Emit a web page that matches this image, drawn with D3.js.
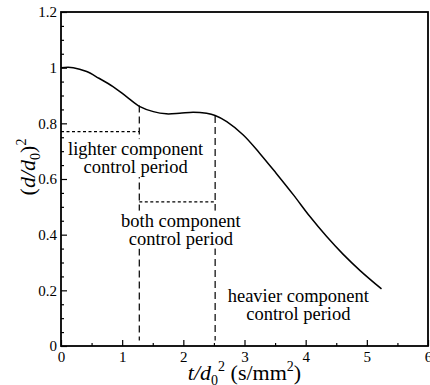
<!DOCTYPE html>
<html>
<head>
<meta charset="utf-8">
<script src="https://cdn.jsdelivr.net/npm/d3@7"></script>
<style>
  body { margin: 0; background: #fff; }
  text { font-family: "Liberation Serif", "Times New Roman", serif; fill: #000; }
</style>
</head>
<body>
<script>
// curve: t/d0^2 vs (d/d0)^2
const tValues = [0, 0.2, 0.42, 0.62, 0.85, 1.07, 1.29, 1.51, 1.72, 1.94, 2.16, 2.38, 2.52, 2.71, 2.98, 3.25, 3.52, 3.80, 4.07, 4.34, 4.61, 4.89, 5.24];
const dValues = [1.0, 1.0, 0.986, 0.962, 0.932, 0.896, 0.86, 0.842, 0.834, 0.836, 0.840, 0.836, 0.828, 0.806, 0.758, 0.692, 0.62, 0.543, 0.465, 0.394, 0.330, 0.271, 0.205];

// period boundaries (vertical dashes) and the short horizontal dotted marks
const periodT = [1.28, 2.52];
const periodTop = [0.864, 0.826];
const levelV = [0.77, 0.518];
const levelFrom = [0, 1.28];
const levelTo = [1.28, 2.52];

const labelLines = [
  ['lighter component', 'control period'],
  ['both component', 'control period'],
  ['heavier component', 'control period']
];
const labelT = [1.22, 1.96, 3.88];
const labelV = [0.686, 0.429, 0.159];

const xTicks = [0, 1, 2, 3, 4, 5, 6];
const yTicks = [0, 0.2, 0.4, 0.6, 0.8, 1, 1.2];

let margin = {top: 12, right: 2, bottom: 39, left: 61};
let width = 430 - (margin.left + margin.right);
let height = 385 - (margin.top + margin.bottom);

let xScale = d3.scaleLinear().domain([0, 6]).range([0, width]);
let yScale = d3.scaleLinear().domain([0, 1.2]).range([height, 0]);

let svg = d3.select('body').append('svg')
    .attr('width', 430)
    .attr('height', 385)
  .append('g')
    .attr('transform', 'translate(' + margin.left + ',' + margin.top + ')');

// minor ticks (inward, no labels)
let xMinor = d3.range(0.5, 6, 1);
let yMinor = d3.range(0, 1.2001, 0.05).filter(v => Math.abs(v * 5 - Math.round(v * 5)) > 1e-6);

svg.append('g')
    .attr('transform', 'translate(0,' + height + ')')
    .call(d3.axisBottom(xScale).tickValues(xMinor).tickSizeInner(-3).tickSizeOuter(0).tickFormat(''))
    .call(g => g.select('.domain').remove());

svg.append('g')
    .call(d3.axisLeft(yScale).tickValues(yMinor).tickSizeInner(-3).tickSizeOuter(0).tickFormat(''))
    .call(g => g.select('.domain').remove());

// major ticks
svg.append('g')
    .attr('class', 'x axis')
    .attr('transform', 'translate(0,' + height + ')')
    .call(d3.axisBottom(xScale).tickValues(xTicks).tickSizeInner(-6).tickSizeOuter(0).tickPadding(5).tickFormat(d3.format('')))
    .call(g => g.select('.domain').remove());

svg.append('g')
    .attr('class', 'y axis')
    .call(d3.axisLeft(yScale).tickValues(yTicks).tickSizeInner(-6).tickSizeOuter(0).tickPadding(4).tickFormat(d => String(+d.toFixed(1))))
    .call(g => g.select('.domain').remove());

svg.selectAll('.axis text')
    .style('font-family', '"Liberation Serif", serif')
    .style('font-size', '15px');
svg.selectAll('.tick line').attr('stroke', '#000').attr('stroke-width', 1.2);

// frame
svg.append('rect')
    .attr('width', width)
    .attr('height', height)
    .attr('fill', 'none')
    .attr('stroke', '#000')
    .attr('stroke-width', 1.8);

// period boundaries
svg.selectAll('.vline')
    .data(periodT)
  .enter().append('line')
    .attr('class', 'vline')
    .attr('x1', d => xScale(d))
    .attr('x2', d => xScale(d))
    .attr('y1', (d, i) => yScale(periodTop[i]))
    .attr('y2', yScale(0.02))
    .attr('stroke', '#000')
    .attr('stroke-width', 1.2)
    .attr('stroke-dasharray', '7,4');

svg.selectAll('.hline')
    .data(levelV)
  .enter().append('line')
    .attr('class', 'hline')
    .attr('x1', (d, i) => xScale(levelFrom[i]))
    .attr('x2', (d, i) => xScale(levelTo[i]))
    .attr('y1', d => yScale(d))
    .attr('y2', d => yScale(d))
    .attr('stroke', '#000')
    .attr('stroke-width', 1.2)
    .attr('stroke-dasharray', '3,2.5');

// curve
let line = d3.line()
    .x((d, i) => xScale(tValues[i]))
    .y(d => yScale(d))
    .curve(d3.curveCatmullRom.alpha(0.5));

svg.append('path')
    .datum(dValues)
    .attr('d', line)
    .attr('fill', 'none')
    .attr('stroke', '#000')
    .attr('stroke-width', 1.5);

// period labels, on a white patch that hides the dashes behind them
labelLines.forEach(function(lines, i) {
  let g = svg.append('g');
  let t = g.append('text')
      .attr('x', xScale(labelT[i]))
      .attr('y', yScale(labelV[i]))
      .attr('text-anchor', 'middle')
      .style('font-size', '18.5px');
  lines.forEach(function(s, j) {
    t.append('tspan')
        .attr('x', xScale(labelT[i]))
        .attr('dy', j === 0 ? 0 : 18)
        .text(s);
  });
  let b = t.node().getBBox();
  g.insert('rect', 'text')
      .attr('x', b.x - 1)
      .attr('y', b.y)
      .attr('width', b.width + 2)
      .attr('height', b.height)
      .attr('fill', '#fff');
});

// x axis title: t/d0^2 (s/mm^2)
let xt = svg.append('text')
    .attr('x', width / 2)
    .attr('y', height + 34)
    .attr('text-anchor', 'middle')
    .style('font-size', '22px');
xt.append('tspan').style('font-style', 'italic').text('t/d');
xt.append('tspan').attr('dy', 5).style('font-size', '14px').text('0');
xt.append('tspan').attr('dy', -14).style('font-size', '14px').text('2');
xt.append('tspan').attr('dy', 9).text(' (s/mm');
xt.append('tspan').attr('dy', -9).style('font-size', '14px').text('2');
xt.append('tspan').attr('dy', 9).text(')');

// y axis title: (d/d0)^2
let yt = svg.append('text')
    .attr('transform', 'translate(' + (-26) + ',' + (yScale(0.6) - 12) + ') rotate(-90)')
    .attr('text-anchor', 'middle')
    .style('font-size', '22px');
yt.append('tspan').text('(');
yt.append('tspan').style('font-style', 'italic').text('d/d');
yt.append('tspan').attr('dy', 5).style('font-size', '14px').text('0');
yt.append('tspan').attr('dy', -5).text(')');
yt.append('tspan').attr('dy', -9).style('font-size', '14px').text('2');
</script>
</body>
</html>
